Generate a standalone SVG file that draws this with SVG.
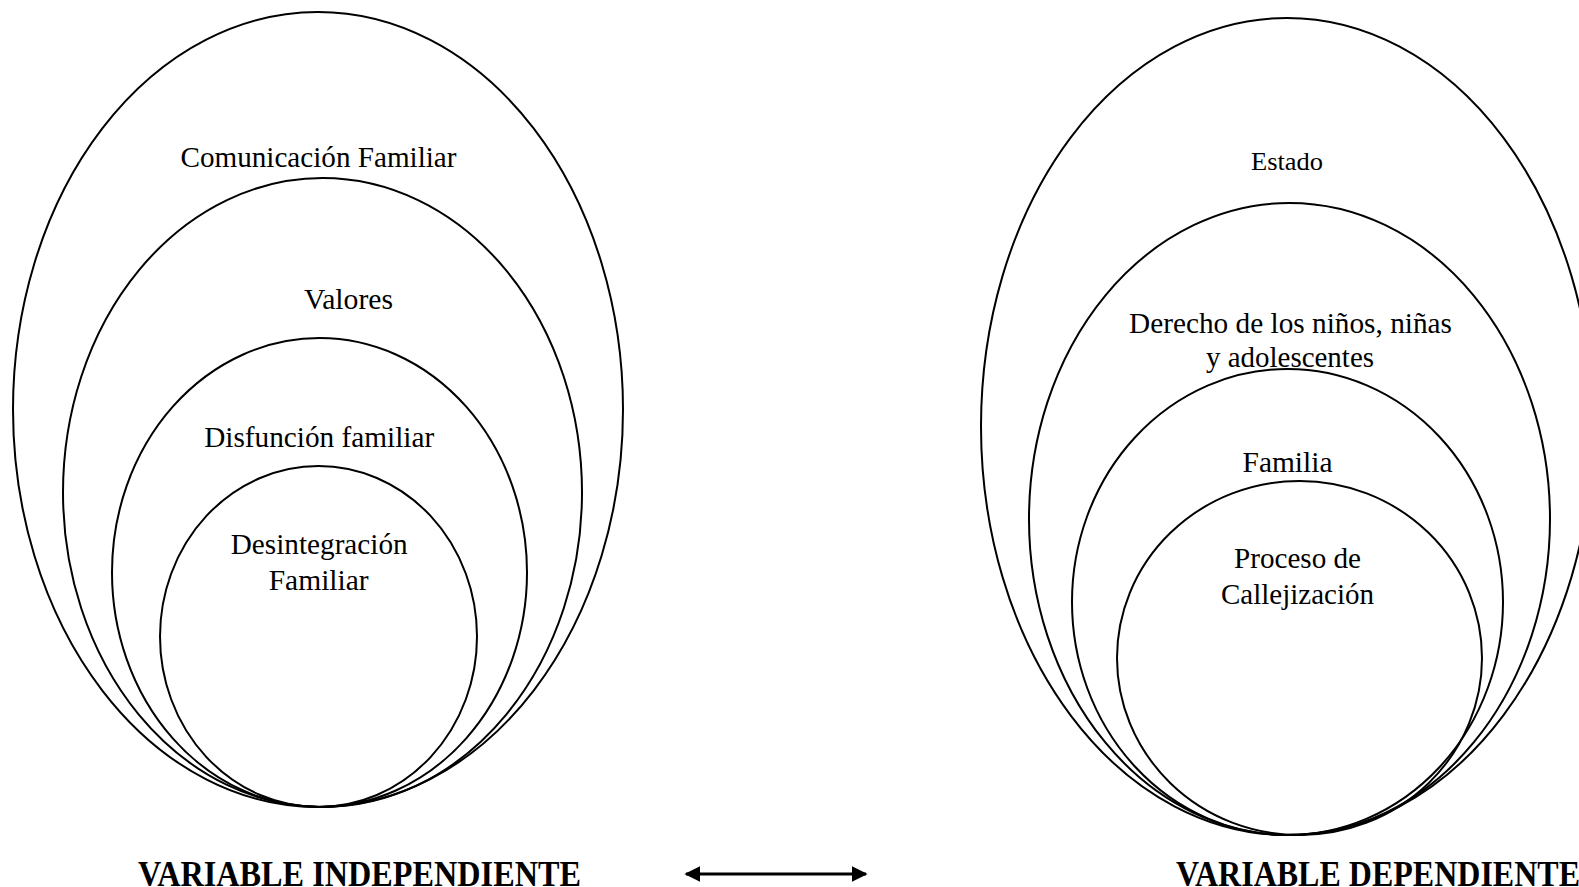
<svg xmlns="http://www.w3.org/2000/svg" width="1579" height="887" viewBox="0 0 1579 887">
<style>
.e{fill:none;stroke:#000;stroke-width:2}
.t{font-family:"Liberation Serif","Times New Roman",serif;font-size:29px;fill:#000;text-anchor:middle}
.s{font-size:25px}
.b{font-family:"Liberation Serif","Times New Roman",serif;font-size:36px;font-weight:bold;fill:#000}
.c{fill:none;stroke:#000;stroke-width:3}
</style>
<defs>
<marker id="ah" viewBox="0 0 10 10" refX="9" refY="5" markerWidth="16" markerHeight="16" markerUnits="userSpaceOnUse" orient="auto-start-reverse">
<path d="M0,0 L10,5 L0,10 z" fill="#000"/>
</marker>
</defs>
<rect width="1579" height="887" fill="#fff"/>
<g id="comunicacion">
<ellipse class="e" cx="318" cy="409.5" rx="305" ry="397.5"/>
<text class="t" x="318.5" y="167" textLength="276" lengthAdjust="spacingAndGlyphs">Comunicación Familiar</text>
</g>
<g id="valores">
<ellipse class="e" cx="322.5" cy="492.5" rx="259.5" ry="314.5"/>
<text class="t" x="348.5" y="309" textLength="89" lengthAdjust="spacingAndGlyphs">Valores</text>
</g>
<g id="disfuncion">
<ellipse class="e" cx="319.5" cy="572.5" rx="207.5" ry="234.5"/>
<text class="t" x="319.2" y="447" textLength="230" lengthAdjust="spacingAndGlyphs">Disfunción familiar</text>
</g>
<g id="desintegracion">
<ellipse class="e" cx="318.5" cy="636.5" rx="158.5" ry="170.5"/>
<text class="t" x="319.2" y="554" textLength="177" lengthAdjust="spacingAndGlyphs">Desintegración</text>
<text class="t" x="318.7" y="590" textLength="100" lengthAdjust="spacingAndGlyphs">Familiar</text>
</g>
<g id="estado">
<ellipse class="e" cx="1287" cy="426.5" rx="306" ry="408.5"/>
<text class="t s" x="1287" y="170" textLength="72" lengthAdjust="spacingAndGlyphs">Estado</text>
</g>
<g id="derecho">
<ellipse class="e" cx="1289.5" cy="519" rx="260.5" ry="316"/>
<text class="t" x="1290.5" y="333" textLength="323" lengthAdjust="spacingAndGlyphs">Derecho de los niños, niñas</text>
<text class="t" x="1290" y="367" textLength="168" lengthAdjust="spacingAndGlyphs">y adolescentes</text>
</g>
<g id="familia">
<ellipse class="e" cx="1287.5" cy="602" rx="215.5" ry="233"/>
<text class="t" x="1287.5" y="472" textLength="90" lengthAdjust="spacingAndGlyphs">Familia</text>
</g>
<g id="proceso">
<ellipse class="e" cx="1299.5" cy="658" rx="182.5" ry="177"/>
<text class="t" x="1297.5" y="568" textLength="127" lengthAdjust="spacingAndGlyphs">Proceso de</text>
<text class="t" x="1297.5" y="604" textLength="153" lengthAdjust="spacingAndGlyphs">Callejización</text>
</g>
<g id="labels">
<text class="b" x="138" y="886" textLength="443" lengthAdjust="spacingAndGlyphs">VARIABLE INDEPENDIENTE</text>
<text class="b" x="1176" y="886" textLength="404" lengthAdjust="spacingAndGlyphs">VARIABLE DEPENDIENTE</text>
</g>
<g id="connectors">
<path class="c" d="M686,874 L866,874" marker-start="url(#ah)" marker-end="url(#ah)"/>
</g>
</svg>
